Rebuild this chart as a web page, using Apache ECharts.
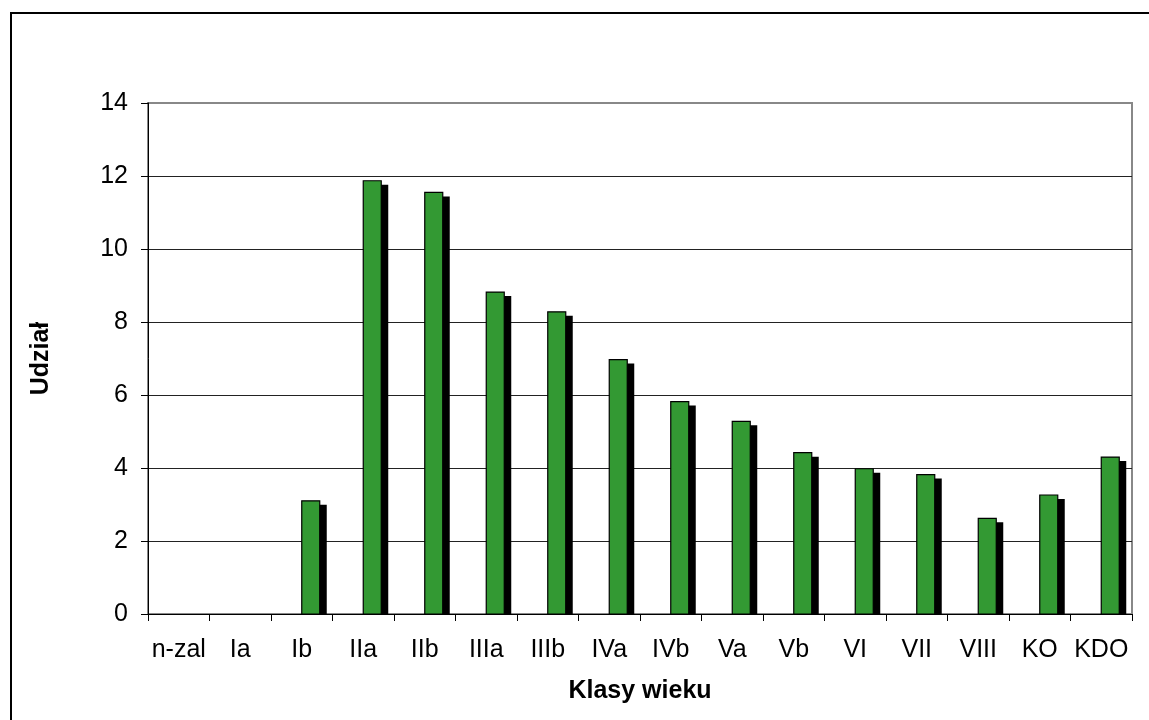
<!DOCTYPE html>
<html>
<head>
<meta charset="utf-8">
<style>
  html, body { margin: 0; padding: 0; background: #fff; }
  #chart { width: 1149px; height: 720px; }
</style>
<script src="https://cdn.jsdelivr.net/npm/echarts@6/dist/echarts.min.js"></script>
</head>
<body>
<div id="chart"></div>
<script>
// Age classes (klasy wieku) and their share (udział)
const categories = ['n-zal', 'Ia', 'Ib', 'IIa', 'IIb', 'IIIa', 'IIIb', 'IVa', 'IVb', 'Va', 'Vb', 'VI', 'VII', 'VIII', 'KO', 'KDO'];
const shares = [0, 0, 3.1, 11.87, 11.55, 8.82, 8.28, 6.97, 5.82, 5.28, 4.42, 3.98, 3.82, 2.62, 3.26, 4.3];
const yTicks = { min: 0, max: 14, interval: 2 };

const FONT = '"Liberation Sans", Arial, sans-serif';
const BAR_W = 18;      // column width
const SHADOW_DX = 7;   // drop shadow offset
const SHADOW_DY = 4;

const chart = echarts.init(document.getElementById('chart'), null, { renderer: 'canvas' });

chart.setOption({
  backgroundColor: '#fff',
  animation: false,
  textStyle: { fontFamily: FONT, color: '#000' },
  graphic: [{
    type: 'rect',
    shape: { x: 11, y: 13, width: 1300, height: 900 },
    style: { fill: 'none', stroke: '#000', lineWidth: 2 },
    silent: true,
    z: 100
  }],
  grid: {
    left: 148, right: 17, top: 103, bottom: 106,
    show: true, borderColor: '#888', borderWidth: 2, backgroundColor: '#fff'
  },
  xAxis: {
    type: 'category',
    data: categories,
    boundaryGap: true,
    name: 'Klasy wieku',
    nameLocation: 'middle',
    nameGap: 65,
    nameTextStyle: { fontFamily: FONT, fontSize: 25, fontWeight: 'bold', color: '#000' },
    axisLine: { lineStyle: { color: '#000', width: 1 } },
    axisTick: { show: true, length: 7, alignWithLabel: false, lineStyle: { color: '#000' } },
    axisLabel: { fontFamily: FONT, fontSize: 25, color: '#000', margin: 24, interval: 0 },
    splitLine: { show: false }
  },
  yAxis: {
    type: 'value',
    min: yTicks.min, max: yTicks.max, interval: yTicks.interval,
    name: 'Udział',
    nameLocation: 'middle',
    nameRotate: 90,
    nameGap: 94,
    nameTextStyle: { fontFamily: FONT, fontSize: 25, fontWeight: 'bold', color: '#000' },
    axisLine: { show: true, lineStyle: { color: '#000', width: 1 } },
    axisTick: { show: true, length: 7, lineStyle: { color: '#000' } },
    axisLabel: { fontFamily: FONT, fontSize: 25, color: '#000', margin: 20 },
    splitLine: { show: true, showMaxLine: false, lineStyle: { color: '#222', width: 1 } }
  },
  series: [{
    type: 'custom',
    data: shares,
    clip: true,
    renderItem: function (params, api) {
      const idx = api.value(0);
      const val = api.value(1);
      if (!(val > 0)) return null;
      const top = api.coord([idx, val]);
      const base = api.coord([idx, 0]);
      const x = top[0];
      const h = base[1] - top[1];
      return {
        type: 'group',
        children: [{
          type: 'rect',
          shape: { x: x + SHADOW_DX, y: top[1] + SHADOW_DY, width: BAR_W, height: h - SHADOW_DY },
          style: { fill: '#000', stroke: null }
        }, {
          type: 'rect',
          shape: { x: x, y: top[1], width: BAR_W, height: h },
          style: { fill: '#339933', stroke: '#000', lineWidth: 1.2 }
        }]
      };
    },
    encode: { x: 0, y: 1 }
  }]
});
</script>
</body>
</html>
